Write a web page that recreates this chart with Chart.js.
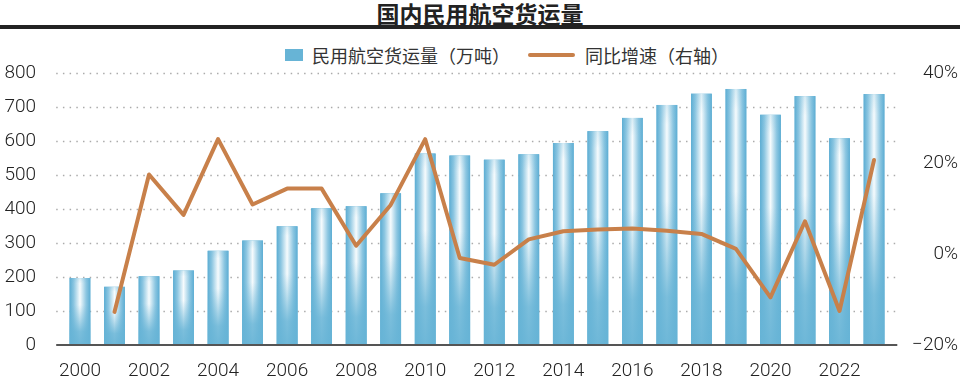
<!DOCTYPE html>
<html>
<head>
<meta charset="utf-8">
<script src="https://cdn.jsdelivr.net/npm/chart.js@4/dist/chart.umd.min.js"></script>
<style>
  html, body { margin: 0; padding: 0; background: #fff; }
  body { width: 960px; height: 376px; overflow: hidden; position: relative; font-family: "Noto Sans CJK SC", sans-serif; }
  #title { position: absolute; left: 0; top: 1px; width: 960px; text-align: center; font-size: 23px; line-height: 24px; font-weight: bold; color: #222; }
  #rule { position: absolute; left: 0; top: 25px; width: 960px; height: 4px; background: #222; }
  .lg { position: absolute; font-size: 18px; line-height: 18px; color: #333; white-space: nowrap; }
  #chart { position: absolute; left: 0; top: 0; }
</style>
</head>
<body>
<div id="title">国内民用航空货运量</div>
<div id="rule"></div>
<div class="lg" style="left:285px;top:49px;width:18px;height:12px;background:#67b4d6"></div>
<div class="lg" style="left:312px;top:46px">民用航空货运量（万吨）</div>
<div class="lg" style="left:528px;top:53px;width:47px;height:4px;background:#c8804a;border-radius:2px"></div>
<div class="lg" style="left:585px;top:46px">同比增速（右轴）</div>
<canvas id="chart" width="960" height="376"></canvas>
<script>
const years = ['2000', '2001', '2002', '2003', '2004', '2005', '2006', '2007', '2008', '2009', '2010', '2011',
  '2012', '2013', '2014', '2015', '2016', '2017', '2018', '2019', '2020', '2021', '2022', '2023'];
// 万吨
const cargo = [197, 171, 202, 219, 277, 307, 349, 402, 408, 446, 563, 557,
  545, 561, 594, 629, 668, 706, 739, 753, 677, 732, 608, 738];
// 同比增速 %
const growth = [null, -12.7, 17.6, 8.7, 25.4, 11.0, 14.5, 14.5, 1.9, 10.9, 25.4, -0.8,
  -2.3, 3.3, 5.1, 5.5, 5.7, 5.2, 4.5, 1.2, -9.5, 7.3, -12.5, 20.8];
const leftTicks = [0, 100, 200, 300, 400, 500, 600, 700, 800];
const rightTicks = [-20, 0, 20, 40];

const BLUE = '#67b4d6';
const ORANGE = '#c8804a';
const tickFont = { family: 'Roboto, "Liberation Sans", sans-serif', size: 19, weight: '300' };

// dotted grid + dark baseline, a bit wider than the category range
const gridPlugin = {
  id: 'grid',
  beforeDatasetsDraw(chart) {
    const { ctx, chartArea, scales } = chart;
    ctx.save();
    ctx.strokeStyle = '#ababab';
    ctx.lineWidth = 1.5;
    ctx.setLineDash([1.5, 5.2]);
    leftTicks.forEach(v => {
      if (v === 0) return;
      const y = Math.round(scales.y.getPixelForValue(v)) + 0.5;
      ctx.beginPath();
      ctx.moveTo(chartArea.left - 6.5, y);
      ctx.lineTo(chartArea.right + 5, y);
      ctx.stroke();
    });
    ctx.restore();
  },
  afterDatasetsDraw(chart) {
    const { ctx, chartArea, scales } = chart;
    const y = scales.y.getPixelForValue(0);
    ctx.save();
    ctx.strokeStyle = '#555';
    ctx.lineWidth = 2;
    ctx.beginPath();
    ctx.moveTo(chartArea.left - 6.5, y);
    ctx.lineTo(chartArea.right + 6, y);
    ctx.stroke();
    ctx.restore();
  },
  afterDatasetDraw(chart, args) {
    if (chart.data.datasets[args.index].type !== 'bar') return;
    const ctx = chart.ctx;
    ctx.save();
    args.meta.data.forEach(el => {
      const { x, y, base, width } = el.getProps(['x', 'y', 'base', 'width'], true);
      const left = x - width / 2;
      const h = base - y;
      const gh = ctx.createLinearGradient(left, 0, left + width, 0);
      gh.addColorStop(0, '#5cadd3');
      gh.addColorStop(0.2, '#8cc6e1');
      gh.addColorStop(0.5, '#f6fbfd');
      gh.addColorStop(0.8, '#8cc6e1');
      gh.addColorStop(1, '#5cadd3');
      ctx.fillStyle = gh;
      ctx.fillRect(left, y, width, h);
      const gv = ctx.createLinearGradient(0, y, 0, base);
      gv.addColorStop(0, 'rgba(103,180,214,0.2)');
      gv.addColorStop(0.08, 'rgba(103,180,214,0)');
      gv.addColorStop(0.4, 'rgba(103,180,214,0)');
      gv.addColorStop(0.8, 'rgba(103,180,214,0.85)');
      gv.addColorStop(1, 'rgba(103,180,214,0.95)');
      ctx.fillStyle = gv;
      ctx.fillRect(left, y, width, h);
    });
    ctx.restore();
  },
};

new Chart(document.getElementById('chart'), {
  data: {
    labels: years,
    datasets: [
      {
        type: 'line',
        label: '同比增速（右轴）',
        data: growth,
        yAxisID: 'y1',
        borderColor: ORANGE,
        borderWidth: 4,
        borderJoinStyle: 'round',
        borderCapStyle: 'round',
        pointRadius: 0,
        tension: 0,
        order: 0,
      },
      {
        type: 'bar',
        label: '民用航空货运量（万吨）',
        data: cargo,
        yAxisID: 'y',
        backgroundColor: BLUE,
        borderWidth: 0,
        categoryPercentage: 1,
        barPercentage: 0.6,
        order: 1,
      },
    ],
  },
  options: {
    responsive: false,
    animation: false,
    layout: { padding: { top: 73, right: 2, bottom: 0, left: 0 } },
    plugins: {
      legend: { display: false },
      tooltip: { enabled: false },
    },
    scales: {
      x: {
        grid: { display: false },
        border: { display: false },
        ticks: {
          color: '#222',
          font: tickFont,
          padding: 7,
          autoSkip: false,
          maxRotation: 0,
          callback: (v, i) => (i % 2 === 0 ? years[i] : ''),
        },
        afterFit: s => { s.height = 31; },
      },
      y: {
        position: 'left',
        min: 0,
        max: 800,
        grid: { display: false },
        border: { display: false },
        ticks: { stepSize: 100, color: '#222', font: tickFont, padding: 18.7 },
        afterFit: s => { s.width = 62.7; },
      },
      y1: {
        position: 'right',
        min: -20,
        max: 40,
        grid: { display: false },
        border: { display: false },
        ticks: {
          stepSize: 20,
          color: '#222',
          font: tickFont,
          crossAlign: 'far',
          callback: v => (v < 0 ? '\u2212' + Math.abs(v) : v) + '%',
        },
        afterFit: s => { s.width = 66.7; },
      },
    },
  },
  plugins: [gridPlugin],
});
</script>
</body>
</html>
